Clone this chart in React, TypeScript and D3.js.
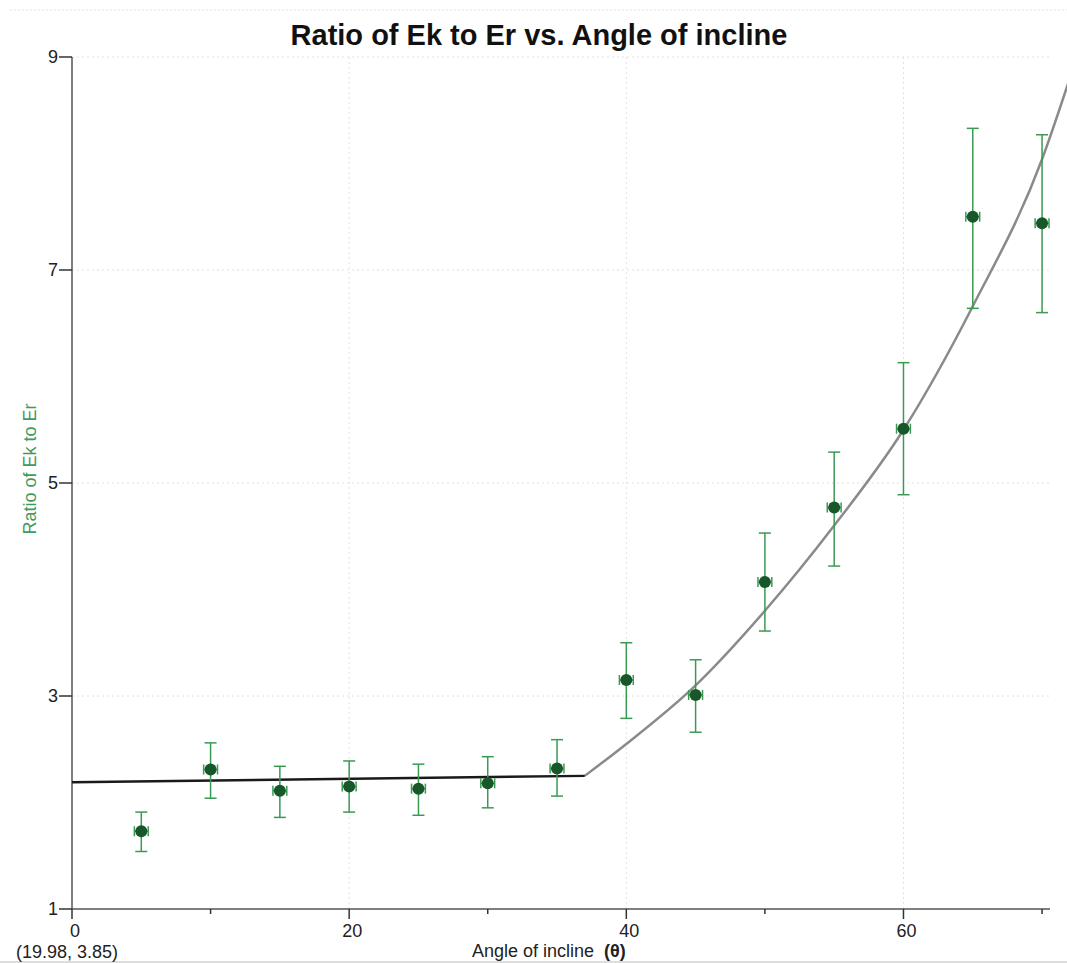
import React, { useEffect, useRef } from "react"
import * as d3 from "d3"

// measured points
const angles = [5, 10, 15, 20, 25, 30, 35, 40, 45, 50, 55, 60, 65, 70]
const ratios = [1.73, 2.31, 2.11, 2.15, 2.13, 2.18, 2.32, 3.15, 3.01, 4.07, 4.77, 5.51, 7.5, 7.44]
const errHigh = [1.91, 2.56, 2.34, 2.39, 2.36, 2.43, 2.59, 3.5, 3.34, 4.53, 5.29, 6.13, 8.33, 8.27]
const errLow = [1.54, 2.04, 1.86, 1.91, 1.88, 1.95, 2.06, 2.79, 2.66, 3.61, 4.22, 4.89, 6.64, 6.6]
const angleErr = 0.5

// fitted curve
const fitAngle = [0, 37, 40, 45, 50, 55, 60, 65, 70, 72]
const fitRatio = [2.19, 2.25, 2.55, 3.1, 3.8, 4.6, 5.5, 6.66, 8.04, 8.8]

const xMajor = [0, 20, 40, 60]
const xMinor = [10, 30, 50, 70]
const yTicks = [1, 3, 5, 7, 9]

const FONT = "Liberation Sans, Arial, sans-serif"

function Chart() {
  const ref = useRef<SVGSVGElement>(null)

  useEffect(() => {
    const W = 1067, H = 963
    const svg = d3.select(ref.current)
    svg.selectAll("*").remove()

    const x = d3.scaleLinear().domain([0, 71.8]).range([72, 1067])
    const y = d3.scaleLinear().domain([1, 9]).range([909, 57])

    svg.append("rect").attr("width", W).attr("height", H).attr("fill", "#fff")

    // frame lines
    svg.append("line").attr("x1", 10).attr("x2", W).attr("y1", 10).attr("y2", 10)
      .attr("stroke", "#e4e4e4").attr("stroke-dasharray", "2,2")
    svg.append("line").attr("x1", 0).attr("x2", W).attr("y1", 962).attr("y2", 962)
      .attr("stroke", "#bbb")

    // grid
    const grid = svg.append("g").attr("stroke", "#e0e0e8").attr("stroke-dasharray", "2,3")
    grid.selectAll("line.gx").data(xMajor.slice(1)).enter().append("line")
      .attr("x1", d => x(d)).attr("x2", d => x(d)).attr("y1", y(9)).attr("y2", y(1))
    grid.selectAll("line.gy").data(yTicks.slice(1)).enter().append("line")
      .attr("x1", x(0)).attr("x2", 1050).attr("y1", d => y(d)).attr("y2", d => y(d))

    // axes
    svg.append("line").attr("x1", x(0)).attr("x2", x(0)).attr("y1", y(9)).attr("y2", y(1))
      .attr("stroke", "#555").attr("stroke-width", 1.5)
    svg.append("line").attr("x1", x(0)).attr("x2", 1050).attr("y1", y(1)).attr("y2", y(1))
      .attr("stroke", "#555").attr("stroke-width", 1.5)

    svg.selectAll("line.yt").data(yTicks).enter().append("line")
      .attr("x1", x(0) - 13).attr("x2", x(0)).attr("y1", d => y(d)).attr("y2", d => y(d))
      .attr("stroke", "#333").attr("stroke-width", 1.5)
    svg.selectAll("text.yl").data(yTicks).enter().append("text")
      .attr("x", x(0) - 14).attr("y", d => y(d) + 6).attr("text-anchor", "end")
      .attr("font-family", FONT).attr("font-size", 18)
      .attr("fill", "#222").text(d => d)

    svg.selectAll("line.xt").data(xMajor).enter().append("line")
      .attr("x1", d => x(d)).attr("x2", d => x(d)).attr("y1", y(1)).attr("y2", y(1) + 10)
      .attr("stroke", "#333").attr("stroke-width", 1.5)
    svg.selectAll("line.xm").data(xMinor).enter().append("line")
      .attr("x1", d => x(d)).attr("x2", d => x(d)).attr("y1", y(1)).attr("y2", y(1) + 5)
      .attr("stroke", "#333").attr("stroke-width", 1.5)
    svg.selectAll("text.xl").data(xMajor).enter().append("text")
      .attr("x", d => x(d) + 3).attr("y", y(1) + 28).attr("text-anchor", "middle")
      .attr("font-family", FONT).attr("font-size", 18)
      .attr("fill", "#222").text(d => d)

    // fitted line
    const line = d3.line<number>().x(i => x(fitAngle[i])).y(i => y(fitRatio[i])).curve(d3.curveMonotoneX)
    const idx = fitAngle.map((_, i) => i)
    svg.append("path").attr("d", line(idx.slice(1))).attr("fill", "none")
      .attr("stroke", "#8a8a8a").attr("stroke-width", 2.5)
    svg.append("path").attr("d", line(idx.slice(0, 2))).attr("fill", "none")
      .attr("stroke", "#1a1a1a").attr("stroke-width", 2.5)

    // error bars
    const eb = svg.append("g").attr("stroke", "#3a9a52").attr("stroke-width", 1.5)
    angles.forEach((a, i) => {
      eb.append("line").attr("x1", x(a)).attr("x2", x(a)).attr("y1", y(errHigh[i])).attr("y2", y(errLow[i]))
      eb.append("line").attr("x1", x(a) - 6).attr("x2", x(a) + 6).attr("y1", y(errHigh[i])).attr("y2", y(errHigh[i]))
      eb.append("line").attr("x1", x(a) - 6).attr("x2", x(a) + 6).attr("y1", y(errLow[i])).attr("y2", y(errLow[i]))
      eb.append("line").attr("x1", x(a - angleErr)).attr("x2", x(a + angleErr)).attr("y1", y(ratios[i])).attr("y2", y(ratios[i]))
      eb.append("line").attr("x1", x(a - angleErr)).attr("x2", x(a - angleErr)).attr("y1", y(ratios[i]) - 5).attr("y2", y(ratios[i]) + 5)
      eb.append("line").attr("x1", x(a + angleErr)).attr("x2", x(a + angleErr)).attr("y1", y(ratios[i]) - 5).attr("y2", y(ratios[i]) + 5)
    })

    svg.selectAll("circle.pt").data(angles).enter().append("circle")
      .attr("cx", d => x(d)).attr("cy", (d, i) => y(ratios[i])).attr("r", 6)
      .attr("fill", "#17572a")

    // texts
    svg.append("text").attr("x", 539).attr("y", 45).attr("text-anchor", "middle")
      .attr("font-family", FONT).attr("font-size", 29)
      .attr("font-weight", "bold").attr("fill", "#111").text("Ratio of Ek to Er vs. Angle of incline")

    svg.append("text").attr("transform", "translate(36,469) rotate(-90)").attr("text-anchor", "middle")
      .attr("font-family", FONT).attr("font-size", 18)
      .attr("fill", "#3f9a5c").text("Ratio of Ek to Er")

    const xl = svg.append("text").attr("x", 472).attr("y", 957)
      .attr("font-family", FONT).attr("font-size", 18).attr("fill", "#222")
    xl.append("tspan").text("Angle of incline")
    xl.append("tspan").attr("dx", 10).attr("font-weight", "bold").text("(θ)")

    svg.append("text").attr("x", 16).attr("y", 958)
      .attr("font-family", FONT).attr("font-size", 18).attr("fill", "#222")
      .text("(19.98, 3.85)")
  }, [])

  return <svg ref={ref} width={1067} height={963} style={{ position: "absolute", left: 0, top: 0 }}></svg>
}

export default function App() {
  return <Chart />
}
